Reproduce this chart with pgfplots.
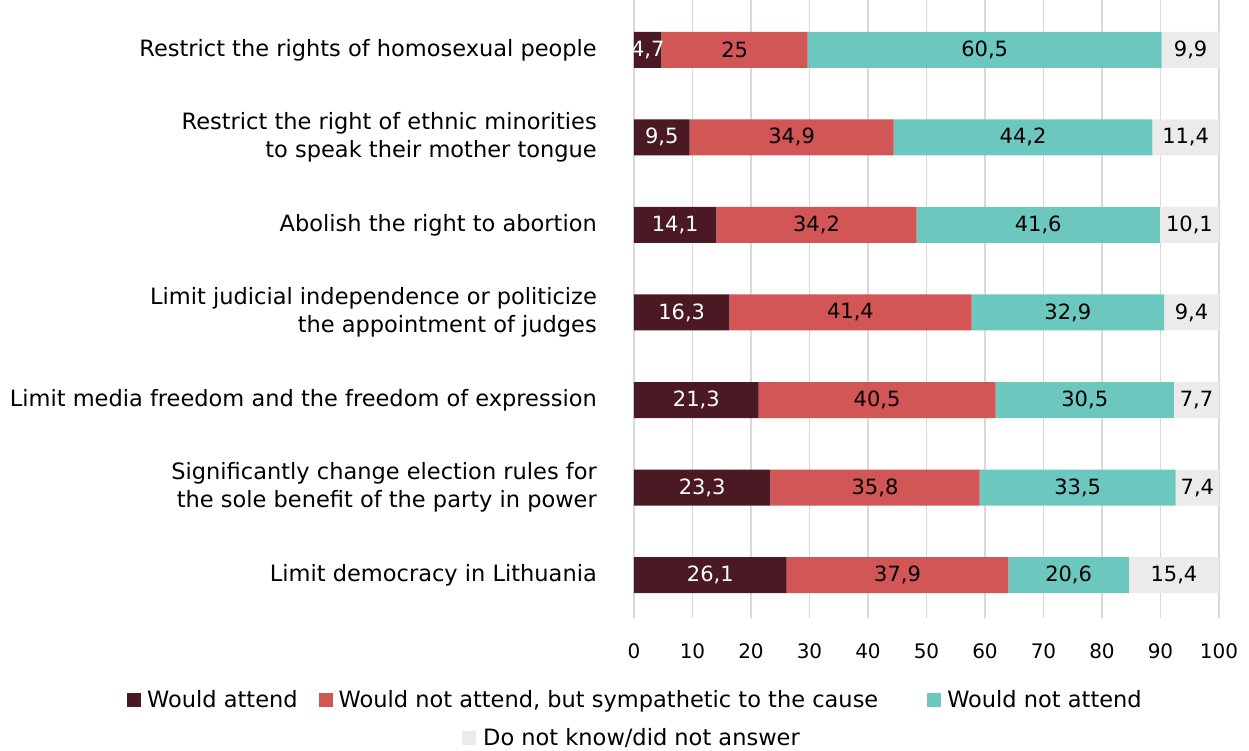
\documentclass[border=0pt]{standalone}
\usepackage{pgfplots}
\pgfplotsset{compat=1.18}
\usepackage{pgfplotstable}
\usepackage{fontspec}
\setmainfont{DejaVu Sans}
\definecolor{cA}{HTML}{4A1923}
\definecolor{cB}{HTML}{D35656}
\definecolor{cC}{HTML}{6CC8BF}
\definecolor{cD}{HTML}{EDEAEA}
\definecolor{gridc}{HTML}{D9D9D9}
\pgfplotstableread{
pos a b c d
0 26.1 37.9 20.6 15.4
1 23.3 35.8 33.5 7.4
2 21.3 40.5 30.5 7.7
3 16.3 41.4 32.9 9.4
4 14.1 34.2 41.6 10.1
5 9.5 34.9 44.2 11.4
6 4.7 25 60.5 9.9
}\datatable
\begin{document}
\begin{tikzpicture}[font=\fontsize{22.5}{28}\selectfont]
\path[use as bounding box] (-634pt,-133pt) rectangle (615pt,618pt);
\pgfplotsset{sq/.style={legend image code/.code={\fill[##1,draw=none] (0pt,-7pt) rectangle (14pt,7pt);}}}
\begin{axis}[
  at={(0,0)}, anchor=south west,
  scale only axis, width=585pt, height=618pt,
  xbar stacked, bar width=36pt,
  xmin=0, xmax=100, ymin=-0.49, ymax=6.57,
  clip=false,
  xtick={0,10,...,100}, ytick={0,...,6},
  yticklabels={Limit democracy in Lithuania,
    {Significantly change election rules for\\the sole benefit of the party in power},
    Limit media freedom and the freedom of expression,
    {Limit judicial independence or politicize\\the appointment of judges},
    Abolish the right to abortion,
    {Restrict the right of ethnic minorities\\to speak their mother tongue},
    Restrict the rights of homosexual people},
  xmajorgrids, grid style={color=gridc, line width=1.3pt},
  axis line style={draw=none}, tick style={draw=none},
  xticklabel style={anchor=north, inner sep=0pt, yshift=-25pt, font=\fontsize{20}{24}\selectfont},
  yticklabel style={anchor=east, inner sep=0pt, xshift=-37pt, align=right},
  /pgf/number format/assume math mode=true,
  visualization depends on=rawx \as \rawx,
  nodes near coords={\pgfmathprintnumber[use comma]{\rawx}},
  every node near coord/.append style={anchor=center, text=black,
     font=\fontsize{21}{24}\selectfont},
  legend columns=3,
  legend style={at={(-0.8667,-0.1327)}, anchor=west, draw=none, fill=none, inner sep=0pt,
    /tikz/every odd column/.style={column sep=4pt},
    /tikz/column 2/.style={column sep=19pt},
    /tikz/column 4/.style={column sep=47pt}},
  legend cell align=left,
]
\addplot[fill=cA, draw=none, sq, every node near coord/.append style={text=white}] table[x=a, y=pos] {\datatable};
\addlegendentry{Would attend}
\addplot[fill=cB, draw=none, sq] table[x=b, y=pos] {\datatable};
\addlegendentry{Would not attend, but sympathetic to the cause}
\addplot[fill=cC, draw=none, sq] table[x=c, y=pos] {\datatable};
\addlegendentry{Would not attend}
\addplot[fill=cD, draw=none, sq, forget plot] table[x=d, y=pos] {\datatable};
\end{axis}
\begin{axis}[
  at={(0,0)}, anchor=south west,
  scale only axis, width=585pt, height=618pt,
  xmin=0, xmax=100, ymin=0, ymax=1, hide axis,
  legend style={at={(-0.294,-0.1942)}, anchor=west, draw=none, fill=none, inner sep=0pt,
    /tikz/every odd column/.style={column sep=5pt}},
]
\addlegendimage{sq, fill=cD}
\addlegendentry{Do not know/did not answer}
\end{axis}
\end{tikzpicture}
\end{document}
